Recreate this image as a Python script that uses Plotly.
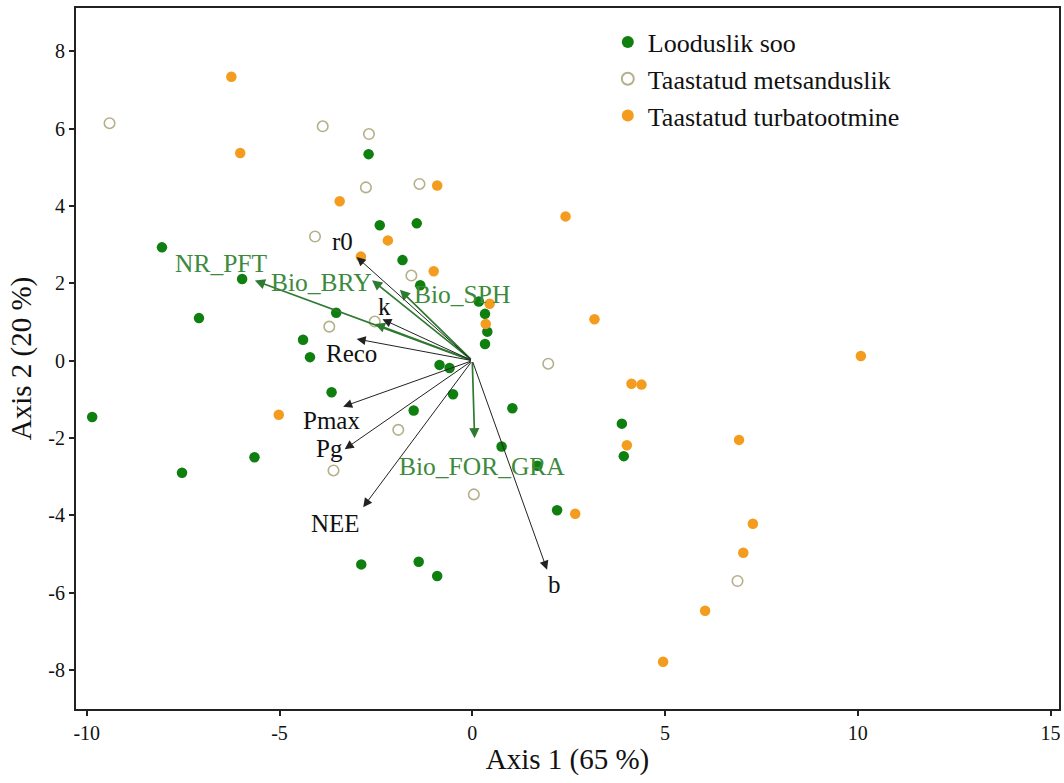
import plotly.graph_objects as go

# ---------------- data ----------------
loo_x = [-2.69, -2.40, -1.44, -8.05, -1.81, -1.35, -5.97, -3.53, -7.09, -4.39, -4.21,
         0.17, 0.33, 0.39, 0.33, -0.85, -0.59, -3.65, -0.50, -9.86, -1.52, -5.65,
         -7.53, -2.88, -1.39, -0.91, 1.04, 3.88, 3.93, 0.76, 1.69, 2.20]
loo_y = [5.34, 3.50, 3.55, 2.93, 2.60, 1.95, 2.11, 1.24, 1.10, 0.54, 0.09,
         1.53, 1.21, 0.75, 0.43, -0.11, -0.19, -0.82, -0.87, -1.46, -1.29, -2.50,
         -2.90, -5.27, -5.20, -5.57, -1.23, -1.63, -2.47, -2.22, -2.72, -3.87]

met_x = [-9.41, -3.88, -2.68, -2.76, -1.37, -4.08, -1.58, -3.71, -2.53, -1.92,
         -3.60, 0.04, 1.97, 6.88]
met_y = [6.14, 6.06, 5.86, 4.48, 4.57, 3.21, 2.20, 0.88, 1.01, -1.79,
         -2.84, -3.46, -0.08, -5.70]

tur_x = [-6.25, -6.02, -0.91, -3.44, -2.19, -2.89, -1.00, -5.02, 2.42, 0.45, 0.35,
         3.17, 10.08, 4.13, 4.39, 6.92, 4.01, 2.67, 7.28, 7.03, 6.04, 4.95]
tur_y = [7.34, 5.37, 4.53, 4.12, 3.11, 2.69, 2.31, -1.40, 3.73, 1.47, 0.95,
         1.07, 0.12, -0.60, -0.62, -2.05, -2.19, -3.96, -4.22, -4.97, -6.47, -7.79]

series_names = ["Looduslik soo", "Taastatud metsanduslik", "Taastatud turbatootmine"]

# flux variables (black arrows)
flux_names = ["r0", "k", "Reco", "Pmax", "Pg", "NEE", "b"]
flux_x = [-3.00, -2.33, -3.00, -3.35, -3.31, -2.83, 1.94]
flux_y = [2.68, 1.07, 0.56, -1.19, -2.29, -3.79, -5.41]
flux_lab_x = [-3.37, -2.27, -3.14, -3.65, -3.70, -3.55, 2.13]
flux_lab_y = [3.07, 1.40, 0.19, -1.56, -2.26, -4.21, -5.80]

# vegetation variables (green arrows)
veg_names = ["NR_PFT", "Bio_BRY", "Bio_SPH", "", "Bio_FOR_GRA"]
veg_x = [-5.64, -2.60, -1.88, -2.53, 0.06]
veg_y = [2.07, 2.08, 1.83, 0.95, -2.01]
veg_lab_x = [-6.50, -3.91, -0.27, -2.53, 0.25]
veg_lab_y = [2.52, 2.01, 1.70, 0.95, -2.74]

x_ticks = [-10, -5, 0, 5, 10, 15]
x_tick_text = ["-10", "-5", "0", "5", "10", "15"]
y_ticks = [-8, -6, -4, -2, 0, 2, 4, 6, 8]
y_tick_text = ["-8", "-6", "-4", "-2", "0", "2", "4", "6", "8"]

# ---------------- style ----------------
FONT = "Liberation Serif"
GREEN = "#0f7f0f"
ORANGE = "#f39c1e"
OPEN_LINE = "#b4b08a"
ARROW_GREEN = "#2e7a30"
LABEL_GREEN = "#3d8a3d"

fig = go.Figure()
fig.add_trace(go.Scatter(x=loo_x, y=loo_y, mode="markers", name=series_names[0],
                         marker=dict(color=GREEN, size=10.5, line=dict(width=0))))
fig.add_trace(go.Scatter(x=met_x, y=met_y, mode="markers", name=series_names[1],
                         marker=dict(color="white", size=10.5,
                                     line=dict(color=OPEN_LINE, width=1.6))))
fig.add_trace(go.Scatter(x=tur_x, y=tur_y, mode="markers", name=series_names[2],
                         marker=dict(color=ORANGE, size=10.5, line=dict(width=0))))

annotations = []
for i in range(len(veg_names)):
    annotations.append(dict(x=veg_x[i], y=veg_y[i], ax=0, ay=0, xref="x", yref="y",
                            axref="x", ayref="y", showarrow=True, arrowhead=2,
                            arrowsize=1.2, arrowwidth=1.7, arrowcolor=ARROW_GREEN, text=""))
    if veg_names[i]:
        annotations.append(dict(x=veg_lab_x[i], y=veg_lab_y[i], xref="x", yref="y",
                                text=veg_names[i], showarrow=False,
                                font=dict(family=FONT, size=25.5, color=LABEL_GREEN)))
for i in range(len(flux_names)):
    annotations.append(dict(x=flux_x[i], y=flux_y[i], ax=0, ay=0, xref="x", yref="y",
                            axref="x", ayref="y", showarrow=True, arrowhead=2,
                            arrowsize=1.8, arrowwidth=1, arrowcolor="#222222", text=""))
    annotations.append(dict(x=flux_lab_x[i], y=flux_lab_y[i], xref="x", yref="y",
                            text=flux_names[i], showarrow=False,
                            font=dict(family=FONT, size=25, color="#111111")))

axis_common = dict(showgrid=False, zeroline=False, showline=True, mirror=True,
                   linecolor="#222222", linewidth=2, ticks="outside", ticklen=5,
                   tickwidth=1.5, tickcolor="#222222",
                   tickfont=dict(family=FONT, size=20, color="#111111"))

fig.update_layout(
    width=1064, height=783,
    paper_bgcolor="white", plot_bgcolor="white",
    margin=dict(l=76, r=3, t=8, b=74),
    font=dict(family=FONT, color="#111111"),
    xaxis=dict(range=[-10.28, 15.22], tickvals=x_ticks, ticktext=x_tick_text,
               title=dict(text="Axis 1 (65 %)", font=dict(family=FONT, size=29), standoff=6),
               **axis_common),
    yaxis=dict(range=[-9.01, 9.12], tickvals=y_ticks, ticktext=y_tick_text,
               title=dict(text="Axis 2 (20 %)", font=dict(family=FONT, size=29), standoff=8),
               **axis_common),
    legend=dict(x=0.541, y=0.985, xanchor="left", yanchor="top",
                font=dict(family=FONT, size=26, color="#111111"),
                bgcolor="rgba(0,0,0,0)", itemsizing="constant", tracegroupgap=0),
    annotations=annotations,
    showlegend=True,
)

fig.write_html("out.html")
